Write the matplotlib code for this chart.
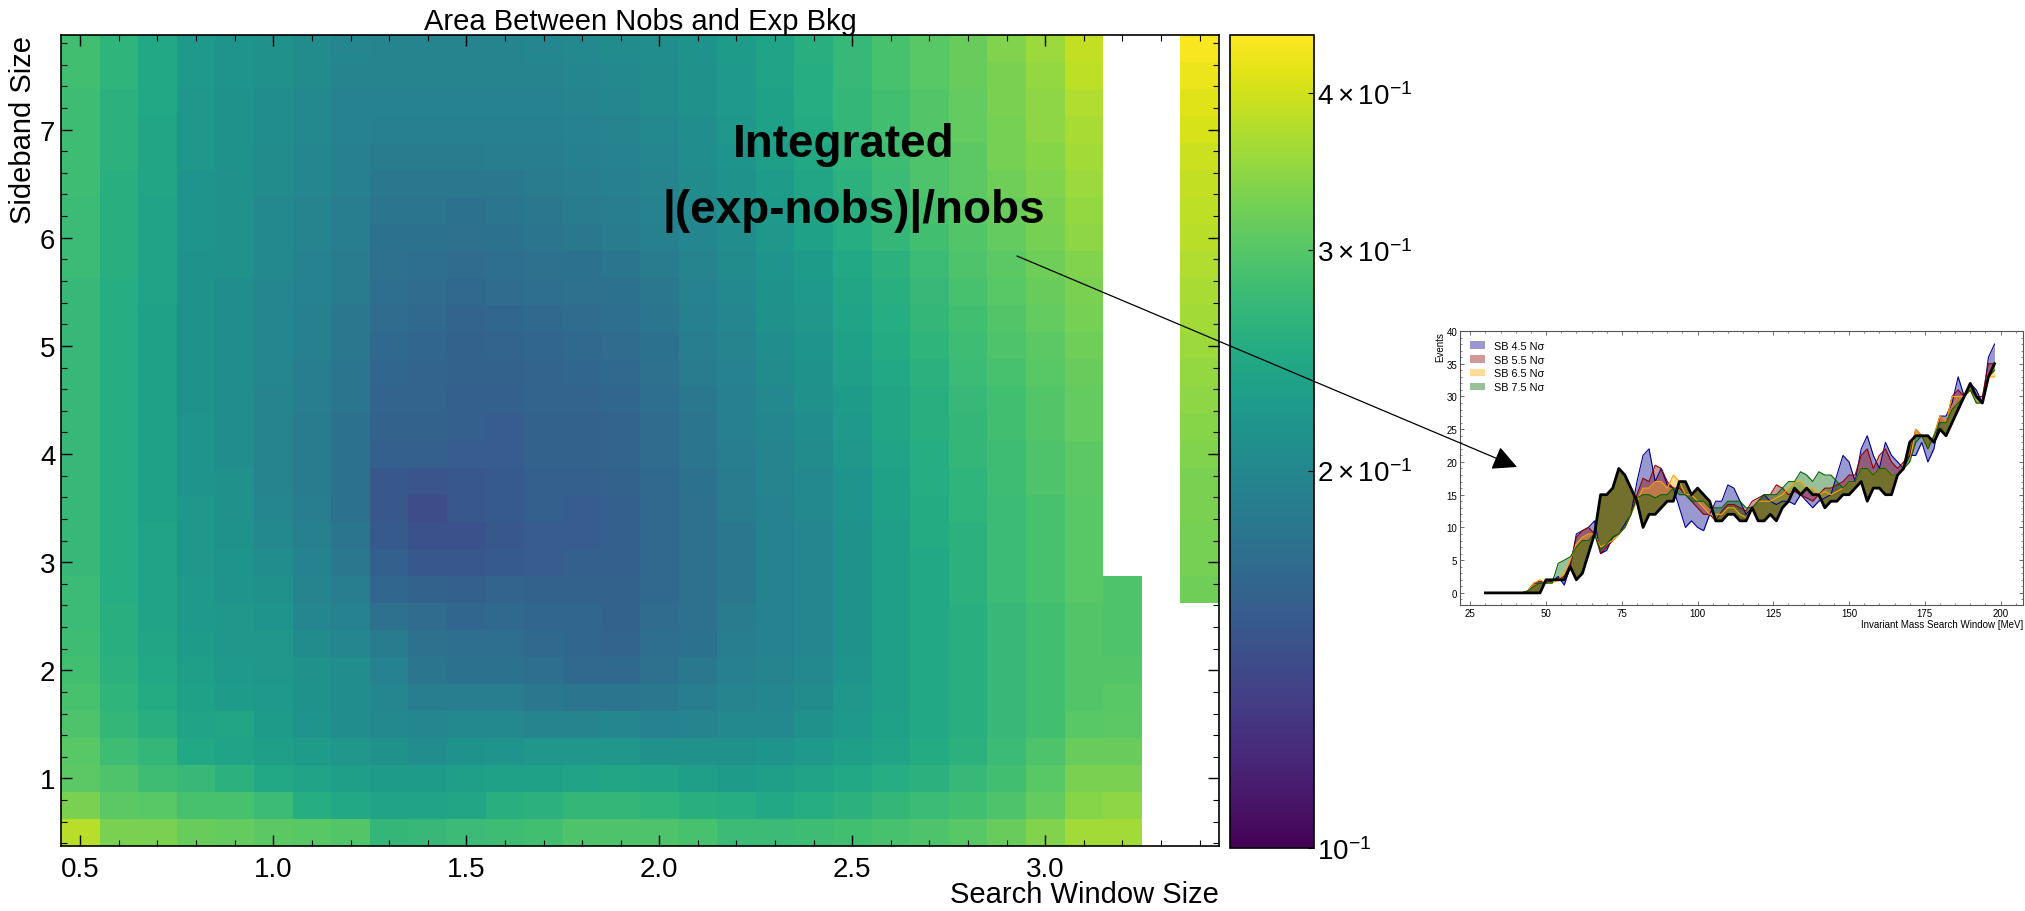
import matplotlib
matplotlib.use('Agg')
import matplotlib.pyplot as plt
import numpy as np
from matplotlib.colors import LogNorm
from matplotlib.patches import FancyArrowPatch, Patch
from matplotlib.ticker import MultipleLocator

plt.rcParams['font.family'] = ['Liberation Sans', 'DejaVu Sans']
plt.rcParams['mathtext.fontset'] = 'custom'
plt.rcParams['mathtext.rm'] = 'Liberation Sans'
plt.rcParams['mathtext.it'] = 'Liberation Sans:italic'
plt.rcParams['mathtext.bf'] = 'Liberation Sans:bold'

# scan grid
window = np.round(np.arange(0.5, 3.45, 0.1), 2)
sideband = np.arange(0.5, 7.8, 0.25)

N = None
# integrated |exp - nobs| / nobs, one list per search window (sideband 0.5 -> 7.75)
area = [
    [0.378, 0.330, 0.306, 0.302, 0.293, 0.289, 0.284, 0.280, 0.276, 0.276, 0.272, 0.272, 0.272, 0.272, 0.272,
     0.272, 0.272, 0.272, 0.272, 0.272, 0.272, 0.276, 0.276, 0.276, 0.280, 0.280, 0.280, 0.280, 0.284, 0.284],
    [0.330, 0.306, 0.293, 0.280, 0.268, 0.264, 0.260, 0.256, 0.256, 0.252, 0.252, 0.252, 0.252, 0.252, 0.252,
     0.252, 0.252, 0.252, 0.252, 0.252, 0.252, 0.256, 0.256, 0.256, 0.256, 0.260, 0.260, 0.260, 0.264, 0.264],
    [0.330, 0.302, 0.280, 0.268, 0.256, 0.249, 0.245, 0.241, 0.238, 0.238, 0.238, 0.238, 0.234, 0.234, 0.234,
     0.234, 0.234, 0.234, 0.234, 0.234, 0.238, 0.238, 0.238, 0.238, 0.241, 0.241, 0.241, 0.245, 0.245, 0.245],
    [0.315, 0.289, 0.272, 0.245, 0.238, 0.234, 0.231, 0.227, 0.224, 0.224, 0.221, 0.221, 0.221, 0.217, 0.217,
     0.217, 0.214, 0.214, 0.214, 0.214, 0.214, 0.214, 0.217, 0.217, 0.217, 0.221, 0.221, 0.221, 0.224, 0.224],
    [0.311, 0.289, 0.260, 0.238, 0.241, 0.227, 0.224, 0.221, 0.221, 0.217, 0.217, 0.214, 0.211, 0.211, 0.208,
     0.208, 0.208, 0.208, 0.208, 0.208, 0.208, 0.211, 0.211, 0.211, 0.211, 0.214, 0.214, 0.214, 0.217, 0.217],
    [0.306, 0.276, 0.245, 0.231, 0.227, 0.224, 0.221, 0.221, 0.217, 0.211, 0.208, 0.202, 0.199, 0.196, 0.196,
     0.196, 0.196, 0.199, 0.199, 0.199, 0.199, 0.202, 0.202, 0.202, 0.205, 0.205, 0.208, 0.208, 0.211, 0.211],
    [0.302, 0.252, 0.238, 0.227, 0.217, 0.214, 0.211, 0.205, 0.199, 0.196, 0.193, 0.190, 0.187, 0.185, 0.185,
     0.185, 0.187, 0.187, 0.190, 0.190, 0.193, 0.193, 0.196, 0.196, 0.199, 0.199, 0.202, 0.202, 0.205, 0.205],
    [0.297, 0.245, 0.231, 0.221, 0.208, 0.208, 0.208, 0.199, 0.193, 0.187, 0.182, 0.179, 0.176, 0.176, 0.176,
     0.176, 0.179, 0.179, 0.182, 0.182, 0.185, 0.185, 0.187, 0.187, 0.190, 0.190, 0.193, 0.193, 0.196, 0.199],
    [0.268, 0.238, 0.227, 0.211, 0.202, 0.199, 0.193, 0.185, 0.174, 0.164, 0.157, 0.152, 0.150, 0.150, 0.157,
     0.159, 0.161, 0.164, 0.166, 0.169, 0.171, 0.174, 0.176, 0.179, 0.182, 0.185, 0.190, 0.193, 0.196, 0.196],
    [0.272, 0.238, 0.227, 0.208, 0.199, 0.187, 0.179, 0.174, 0.169, 0.159, 0.150, 0.145, 0.141, 0.147, 0.157,
     0.159, 0.161, 0.161, 0.164, 0.166, 0.169, 0.171, 0.176, 0.179, 0.182, 0.185, 0.190, 0.193, 0.196, 0.196],
    [0.276, 0.241, 0.231, 0.214, 0.202, 0.187, 0.176, 0.171, 0.164, 0.157, 0.150, 0.145, 0.150, 0.150, 0.154,
     0.157, 0.157, 0.159, 0.159, 0.161, 0.166, 0.169, 0.174, 0.176, 0.182, 0.185, 0.190, 0.193, 0.196, 0.196],
    [0.280, 0.256, 0.234, 0.217, 0.202, 0.187, 0.176, 0.171, 0.166, 0.161, 0.152, 0.150, 0.152, 0.152, 0.154,
     0.154, 0.157, 0.159, 0.161, 0.164, 0.169, 0.171, 0.176, 0.179, 0.182, 0.187, 0.190, 0.193, 0.196, 0.196],
    [0.284, 0.260, 0.234, 0.221, 0.196, 0.182, 0.171, 0.166, 0.164, 0.159, 0.154, 0.154, 0.157, 0.157, 0.159,
     0.159, 0.161, 0.161, 0.164, 0.166, 0.171, 0.174, 0.179, 0.182, 0.185, 0.187, 0.190, 0.193, 0.196, 0.199],
    [0.293, 0.268, 0.238, 0.221, 0.196, 0.179, 0.166, 0.164, 0.164, 0.159, 0.157, 0.154, 0.154, 0.157, 0.159,
     0.159, 0.161, 0.164, 0.166, 0.169, 0.174, 0.176, 0.182, 0.185, 0.187, 0.190, 0.193, 0.196, 0.199, 0.202],
    [0.293, 0.268, 0.241, 0.221, 0.199, 0.179, 0.166, 0.161, 0.159, 0.159, 0.157, 0.157, 0.157, 0.159, 0.161,
     0.161, 0.164, 0.166, 0.169, 0.171, 0.176, 0.179, 0.185, 0.187, 0.190, 0.193, 0.196, 0.199, 0.202, 0.205],
    [0.293, 0.264, 0.238, 0.211, 0.193, 0.182, 0.174, 0.171, 0.169, 0.166, 0.166, 0.166, 0.166, 0.166, 0.169,
     0.169, 0.171, 0.174, 0.176, 0.179, 0.182, 0.185, 0.190, 0.193, 0.196, 0.199, 0.202, 0.205, 0.205, 0.208],
    [0.289, 0.256, 0.231, 0.211, 0.196, 0.187, 0.182, 0.176, 0.174, 0.174, 0.174, 0.174, 0.174, 0.176, 0.179,
     0.179, 0.182, 0.185, 0.187, 0.190, 0.193, 0.196, 0.199, 0.202, 0.205, 0.208, 0.208, 0.211, 0.211, 0.214],
    [0.276, 0.252, 0.227, 0.211, 0.202, 0.196, 0.190, 0.187, 0.185, 0.182, 0.182, 0.182, 0.185, 0.185, 0.187,
     0.190, 0.190, 0.193, 0.196, 0.199, 0.202, 0.205, 0.208, 0.211, 0.214, 0.217, 0.221, 0.224, 0.224, 0.227],
    [0.276, 0.245, 0.231, 0.217, 0.202, 0.199, 0.196, 0.193, 0.193, 0.193, 0.193, 0.193, 0.193, 0.196, 0.196,
     0.199, 0.202, 0.205, 0.208, 0.211, 0.214, 0.217, 0.221, 0.224, 0.227, 0.231, 0.234, 0.234, 0.238, 0.238],
    [0.280, 0.252, 0.238, 0.224, 0.211, 0.205, 0.202, 0.199, 0.199, 0.199, 0.199, 0.199, 0.202, 0.202, 0.205,
     0.208, 0.211, 0.214, 0.217, 0.221, 0.224, 0.227, 0.234, 0.238, 0.241, 0.245, 0.249, 0.252, 0.252, 0.256],
    [0.284, 0.260, 0.245, 0.231, 0.224, 0.221, 0.217, 0.214, 0.214, 0.214, 0.214, 0.214, 0.217, 0.217, 0.221,
     0.224, 0.227, 0.231, 0.234, 0.238, 0.241, 0.245, 0.252, 0.256, 0.260, 0.264, 0.268, 0.268, 0.272, 0.272],
    [0.289, 0.268, 0.252, 0.238, 0.234, 0.231, 0.231, 0.231, 0.231, 0.231, 0.231, 0.231, 0.234, 0.234, 0.238,
     0.241, 0.241, 0.245, 0.249, 0.252, 0.256, 0.260, 0.268, 0.272, 0.276, 0.280, 0.284, 0.284, 0.289, 0.289],
    [0.293, 0.276, 0.260, 0.249, 0.245, 0.245, 0.245, 0.245, 0.245, 0.245, 0.245, 0.249, 0.249, 0.252, 0.252,
     0.256, 0.256, 0.260, 0.264, 0.268, 0.272, 0.276, 0.284, 0.289, 0.293, 0.293, 0.297, 0.297, 0.302, 0.302],
    [0.302, 0.284, 0.272, 0.260, 0.256, 0.256, 0.256, 0.256, 0.256, 0.260, 0.260, 0.260, 0.264, 0.264, 0.268,
     0.268, 0.272, 0.276, 0.280, 0.284, 0.289, 0.293, 0.297, 0.302, 0.306, 0.306, 0.311, 0.311, 0.315, 0.315],
    [0.315, 0.293, 0.284, 0.276, 0.272, 0.272, 0.272, 0.272, 0.272, 0.276, 0.276, 0.276, 0.276, 0.280, 0.280,
     0.284, 0.284, 0.289, 0.293, 0.297, 0.302, 0.306, 0.311, 0.315, 0.320, 0.325, 0.325, 0.330, 0.330, 0.335],
    [0.335, 0.311, 0.302, 0.293, 0.284, 0.284, 0.284, 0.284, 0.284, 0.289, 0.289, 0.289, 0.289, 0.293, 0.293,
     0.297, 0.297, 0.302, 0.306, 0.311, 0.315, 0.320, 0.325, 0.330, 0.335, 0.340, 0.345, 0.345, 0.350, 0.356],
    [0.361, 0.340, 0.330, 0.315, 0.302, 0.297, 0.297, 0.297, 0.297, 0.302, 0.302, 0.302, 0.302, 0.306, 0.306,
     0.311, 0.311, 0.315, 0.320, 0.325, 0.330, 0.335, 0.345, 0.350, 0.356, 0.361, 0.366, 0.372, 0.383, 0.389],
    [0.361, 0.345, 0.330, 0.315, 0.306, 0.302, 0.297, 0.293, 0.293, 0.293, N, N, N, N, N,
     N, N, N, N, N, N, N, N, N, N, N, N, N, N, N],
    [N, N, N, N, N, N, N, N, N, N, N, N, N, N, N,
     N, N, N, N, N, N, N, N, N, N, N, N, N, N, N],
    [N, N, N, N, N, N, N, N, N, 0.320, 0.325, 0.325, 0.330, 0.330, 0.335,
     0.340, 0.345, 0.350, 0.356, 0.361, 0.366, 0.372, 0.378, 0.383, 0.389, 0.395, 0.407, 0.413, 0.426, 0.439],
]

# example spectrum shown on the right
mass = np.arange(30, 199, 2)
nobs = [0, 0, 0, 0, 0, 0, 0, 0, 0, 0,
        2, 2, 2, 2, 4, 2, 3, 6, 9, 15,
        15, 16, 19, 18, 16, 14, 10, 12, 12, 13,
        14, 14, 17, 17, 15, 16, 15, 14, 11, 11,
        12, 12, 11, 11, 13, 11, 11, 12, 11, 13,
        14, 16, 15, 16, 15, 15, 13, 14, 14, 15,
        15, 16, 17, 14, 16, 16, 15, 15, 18, 19,
        23, 24, 24, 24, 23, 25, 24, 26, 28, 30,
        32, 30, 29, 33, 35]
sb45 = [0, 0, 0, 0, 0, 0, 0, 0.3, 1.5, 1.5,
        1.5, 1.8, 2.5, 1.2, 4, 9, 9.5, 10, 11, 6,
        6.5, 8.5, 9, 10.5, 12, 17, 21, 22, 17, 19,
        16.5, 16, 13, 10, 11, 10, 9.5, 12, 14, 14,
        16.5, 16, 14, 12, 13, 14, 15, 14, 13.5, 14,
        14, 13.5, 15, 14, 13, 14, 14.5, 15, 18, 21,
        20, 17, 22, 24, 21, 19, 23, 21, 20, 19,
        21, 21, 23, 20, 22, 27, 27, 29, 33, 30,
        32, 31, 29, 36, 38]
sb55 = [0, 0, 0, 0, 0, 0, 0, 0.3, 1.5, 1.8,
        1.5, 2, 2.2, 2.5, 4.5, 8.5, 9.5, 10, 9, 6,
        7, 8, 9, 10, 12, 15, 17.5, 17, 19.5, 19,
        17, 16, 16, 15, 14, 13, 12, 12, 11, 12.5,
        13.5, 13.5, 13, 12.5, 14, 14.5, 15, 15, 16.5, 16,
        15, 15.5, 15, 14.5, 14, 15, 16, 16, 16.5, 17,
        18, 18, 21, 22, 19, 21, 22, 20, 19, 20,
        21, 25, 24, 22, 24, 27, 26, 30, 31, 30,
        31, 30, 30, 35, 35]
sb65 = [0, 0, 0, 0, 0, 0, 0, 0.3, 1.5, 2,
        1.5, 1.5, 2, 3, 5, 7.5, 8.5, 9, 9, 7,
        7.5, 8, 9, 10, 12, 14, 16, 16, 17, 17,
        16, 18, 17, 15, 15, 14, 13, 12, 12, 12,
        13, 13, 12, 11.5, 13, 14, 14, 14, 14.5, 15,
        16, 17, 17, 16, 16, 15, 15.5, 15, 15.5, 16,
        17, 17, 19, 19, 18, 19, 19, 18, 18, 19,
        20, 25, 24, 22, 24, 27, 26, 30, 30, 30,
        31, 29, 29, 33, 33]
sb75 = [0, 0, 0, 0, 0, 0, 0, 0.3, 1, 1.5,
        1.5, 1.5, 4.5, 5, 5.5, 7, 8, 8, 9, 6.5,
        7.5, 8.5, 9, 10, 12, 14.5, 15, 15, 14.5, 15,
        15, 16, 15, 15, 14, 14, 14, 13, 13, 13,
        14, 14, 14, 13, 13, 14, 15, 15, 15, 16,
        17, 17, 18.5, 18, 17, 18.5, 18, 18, 17, 16,
        17, 17, 19, 19, 18, 19, 19, 18, 18, 19,
        20, 23, 24, 22, 24, 26, 26, 28, 29, 30,
        31, 29, 29, 33, 34]
sb_labels = ['SB 4.5 N\u03c3', 'SB 5.5 N\u03c3', 'SB 6.5 N\u03c3', 'SB 7.5 N\u03c3']
sb_colors = ['darkblue', 'darkred', 'orange', 'darkgreen']

W, H = 2025, 912
fig = plt.figure(figsize=(W / 100, H / 100), dpi=100)

# ---- heat map ----
ax = fig.add_axes([61 / W, 65 / H, 1158 / W, 811 / H])
Z = np.ma.masked_invalid(np.array(area, dtype=float).T)
mesh = ax.pcolormesh(window, sideband, Z, shading='nearest', cmap='viridis',
                     norm=LogNorm(vmin=0.1, vmax=0.445))
ax.xaxis.set_major_locator(MultipleLocator(0.5))
ax.xaxis.set_minor_locator(MultipleLocator(0.1))
ax.yaxis.set_major_locator(MultipleLocator(1))
ax.yaxis.set_minor_locator(MultipleLocator(0.2))
ax.tick_params(which='both', direction='in', top=True, right=True, labelsize=20)
ax.tick_params(which='major', length=8, width=1)
ax.tick_params(which='minor', length=4, width=0.8)
ax.tick_params(axis='x', which='both', pad=7)
ax.tick_params(axis='y', which='both', pad=4)
for s in ax.spines.values():
    s.set_linewidth(1.2)
ax.set_title('Area Between Nobs and Exp Bkg', fontsize=21, pad=2)
ax.set_xlabel('Search Window Size', fontsize=21, loc='right', labelpad=-1)
ax.set_ylabel('Sideband Size', fontsize=21, loc='top', labelpad=2)

cax = fig.add_axes([1230 / W, 63 / H, 84 / W, 813 / H])
cb = fig.colorbar(mesh, cax=cax)
cb.set_ticks([0.1, 0.2, 0.3, 0.4])
cb.set_ticklabels([r'$10^{-1}$', r'$2\times10^{-1}$', r'$3\times10^{-1}$', r'$4\times10^{-1}$'])
cb.minorticks_off()
cax.tick_params(labelsize=20, length=4, direction='in', pad=2)
cb.outline.set_linewidth(1.2)

fig.text(844 / W, 1 - 157 / H, 'Integrated', fontsize=33, fontweight='bold',
         ha='center', va='baseline')
fig.text(854 / W, 1 - 223 / H, '|(exp-nobs)|/nobs', fontsize=33, fontweight='bold',
         ha='center', va='baseline')

# ---- spectrum inset ----
ins = fig.add_axes([1460 / W, 306 / H, 563 / W, 274 / H])
for sb, c in zip([sb45, sb55, sb65, sb75], sb_colors):
    ins.fill_between(mass, sb, nobs, color=c, alpha=0.4, lw=0)
for sb, c in zip([sb45, sb55, sb65, sb75], sb_colors):
    ins.plot(mass, sb, color=c, lw=0.8)
ins.plot(mass, nobs, color='black', lw=2)
ins.set_xlim(21.6, 207.4)
ins.set_ylim(-1.85, 40)
ins.xaxis.set_major_locator(MultipleLocator(25))
ins.xaxis.set_minor_locator(MultipleLocator(5))
ins.yaxis.set_major_locator(MultipleLocator(5))
ins.yaxis.set_minor_locator(MultipleLocator(1))
ins.tick_params(which='both', direction='in', top=True, right=True, labelsize=7,
                pad=2, color='#555555')
ins.tick_params(which='major', length=3, width=0.6)
ins.tick_params(which='minor', length=1.5, width=0.5)
for s in ins.spines.values():
    s.set_linewidth(0.8)
    s.set_color('#555555')
ins.set_xlabel('Invariant Mass Search Window [MeV]', fontsize=7, loc='right', labelpad=1)
ins.set_ylabel('Events', fontsize=7, loc='top', labelpad=1)
handles = [Patch(facecolor=c, alpha=0.4, edgecolor='none') for c in sb_colors]
ins.legend(handles, sb_labels, loc='upper left', frameon=False, fontsize=7.8,
           handlelength=1.4, handleheight=0.7, handletextpad=0.8, labelspacing=0.35,
           borderaxespad=0.6, borderpad=0.3)

arrow = FancyArrowPatch((1017 / W, 1 - 257 / H), (1517 / W, 1 - 468 / H),
                        transform=fig.transFigure,
                        arrowstyle='-|>,head_length=1.0,head_width=0.5',
                        mutation_scale=15, lw=0.9, color='black',
                        shrinkA=0, shrinkB=0)
fig.add_artist(arrow)

fig.savefig('out.png', dpi=100)
